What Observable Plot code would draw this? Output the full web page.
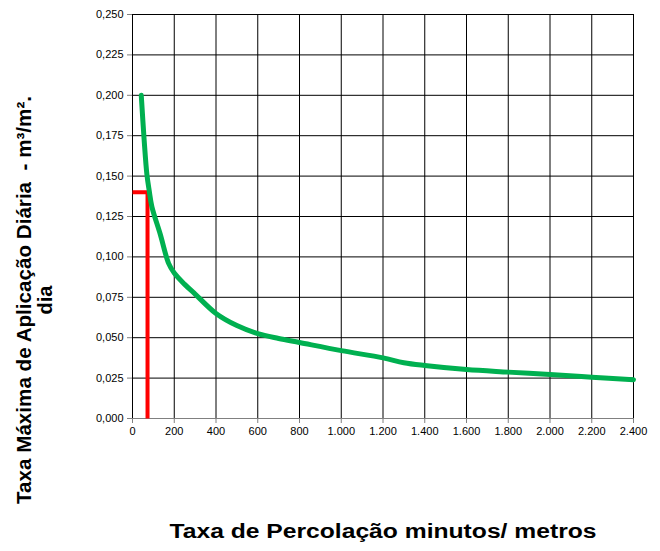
<!DOCTYPE html>
<html><head><meta charset="utf-8">
<script src="https://cdn.jsdelivr.net/npm/d3@7"></script>
<script src="https://cdn.jsdelivr.net/npm/@observablehq/plot@0.6"></script>
<style>body{margin:0;background:#fff} svg{font-family:"Liberation Sans",Arial,sans-serif}</style>
</head><body><div id="chart"></div>
<script>
// Curve: Taxa de Percolação (min/m) vs Taxa Máxima de Aplicação Diária (m³/m².dia)
const curveX = [42, 56, 69, 80, 93, 133, 173, 200, 250, 300, 400, 500, 600, 700, 800, 1000, 1200, 1300, 1400, 1600, 1800, 2000, 2200, 2400];
const curveY = [0.200, 0.172, 0.151, 0.141, 0.131, 0.114, 0.096, 0.090, 0.083, 0.077, 0.065, 0.0575, 0.0525, 0.0495, 0.047, 0.042, 0.0375, 0.0345, 0.0328, 0.0303, 0.0287, 0.0272, 0.0256, 0.024];
// Red reading guide
const markerX = [0, 72, 72];
const markerY = [0.140, 0.140, 0];
// Ticks
const xTicks = [0, 200, 400, 600, 800, 1000, 1200, 1400, 1600, 1800, 2000, 2200, 2400];
const yTicks = [0, 0.025, 0.05, 0.075, 0.1, 0.125, 0.15, 0.175, 0.2, 0.225, 0.25];
const xTitle = "Taxa de Percolação minutos/ metros";
const yTitle1 = "Taxa Máxima de Aplicação Diária  - m³/m².";
const yTitle2 = "dia";

const loc = d3.formatLocale({decimal: ",", thousands: ".", grouping: [3], currency: ["", ""]});
const fx = loc.format(",d");
const fy = loc.format(".3f");

const curve = curveX.map((x, i) => ({x, y: curveY[i]}));
const marker = markerX.map((x, i) => ({x, y: markerY[i]}));

const plot = Plot.plot({
  width: 660, height: 551,
  marginLeft: 132, marginRight: 27, marginTop: 14, marginBottom: 133,
  style: {fontFamily: '"Liberation Sans", Arial, sans-serif', fontSize: "11px", color: "#000", background: "#fff"},
  x: {domain: [0, 2400], label: null},
  y: {domain: [0, 0.25], label: null},
  marks: [
    Plot.gridX(xTicks, {stroke: "#000", strokeOpacity: 1}),
    Plot.gridY(yTicks, {stroke: "#000", strokeOpacity: 1}),
    Plot.frame({stroke: "#000"}),
    Plot.ruleY([0], {stroke: "#808080"}),
    Plot.axisX({ticks: xTicks, tickFormat: fx, tickSize: 5, tickPadding: 4, label: null, stroke: "#808080"}),
    Plot.axisY({ticks: yTicks, tickFormat: fy, tickSize: 5, tickPadding: 4, label: null, stroke: "#808080"}),
    Plot.line(marker, {x: "x", y: "y", stroke: "#ff0000", strokeWidth: 4, strokeLinejoin: "miter", strokeLinecap: "butt"}),
    Plot.line(curve, {x: "x", y: "y", stroke: "#00b050", strokeWidth: 5, curve: "catmull-rom"})
  ]
});

const svg = d3.select(plot);
svg.append("text").text(xTitle)
  .attr("x", 383).attr("y", 538).attr("text-anchor", "middle")
  .attr("textLength", 427).attr("lengthAdjust", "spacingAndGlyphs")
  .attr("font-weight", "bold").attr("font-size", 20).attr("fill", "#000");
svg.append("text").text(yTitle1)
  .attr("transform", "translate(31,300) rotate(-90)").attr("text-anchor", "middle")
  .attr("textLength", 408).attr("lengthAdjust", "spacingAndGlyphs")
  .attr("font-weight", "bold").attr("font-size", 20).attr("fill", "#000");
svg.append("text").text(yTitle2)
  .attr("transform", "translate(52,300) rotate(-90)").attr("text-anchor", "middle")
  .attr("font-weight", "bold").attr("font-size", 20).attr("fill", "#000");

document.getElementById("chart").appendChild(plot);
</script>
</body></html>
